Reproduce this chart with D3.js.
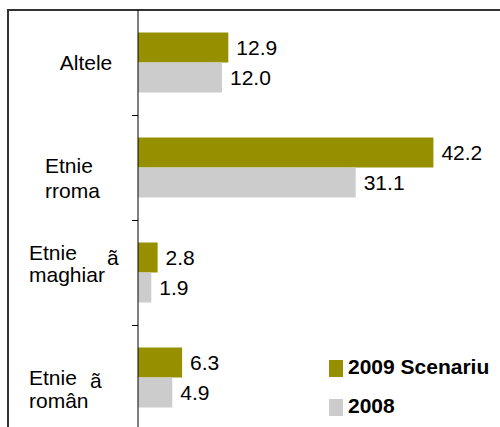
<!DOCTYPE html>
<html>
<head>
<meta charset="utf-8">
<script src="https://d3js.org/d3.v7.min.js"></script>
<style>
  body { margin: 0; background: #fff; }
  svg { display: block; font-family: "Liberation Sans", Arial, sans-serif; }
</style>
</head>
<body>
<div id="chart"></div>
<script>
// data
var categories = ["Altele", "Etnie rroma", "Etnie maghiarã", "Etnie românã"];
var seriesNames = ["2009 Scenariu", "2008"];
var values2009 = [12.9, 42.2, 2.8, 6.3];
var values2008 = [12.0, 31.1, 1.9, 4.9];
var seriesColors = ["#969000", "#cccccc"];

// label lines as they appear in the picture (main lines + detached "ã")
var labelLines = [["Altele"], ["Etnie", "rroma"], ["Etnie", "maghiar"], ["Etnie", "român"]];
var labelSuffix = [null, null, "ã", "ã"];

var W = 500, H = 427;
var fs = 21;
var svg = d3.select("#chart").append("svg")
  .attr("width", W)
  .attr("height", H);

// scales
var x = d3.scaleLinear().domain([0, 50]).range([138, 488]);
var y = d3.scaleBand().domain(categories).range([10, 430]);
var inner = d3.scaleBand().domain(seriesNames).range([0, 60]);

//outer frame
svg.append("line")
  .attr("x1", 7).attr("x2", W).attr("y1", 10).attr("y2", 10)
  .attr("stroke", "#333").attr("stroke-width", 2);
svg.append("line")
  .attr("x1", 8).attr("x2", 8).attr("y1", 9).attr("y2", H)
  .attr("stroke", "#333").attr("stroke-width", 2);

// bars
var series = [values2009, values2008];
series.forEach(function(vals, si) {
  var g = svg.append("g");
  g.selectAll("rect")
    .data(vals)
    .enter()
    .append("rect")
    .attr("x", x(0))
    .attr("y", function(d, i) { return y(categories[i]) + (y.bandwidth() - 60) / 2 + inner(seriesNames[si]); })
    .attr("width", function(d) { return x(d) - x(0); })
    .attr("height", inner.bandwidth())
    .attr("fill", seriesColors[si]);

  g.selectAll("text")
    .data(vals)
    .enter()
    .append("text")
    .attr("x", function(d) { return x(d) + 8; })
    .attr("y", function(d, i) { return y(categories[i]) + (y.bandwidth() - 60) / 2 + inner(seriesNames[si]) + inner.bandwidth() / 2 + 7.5; })
    .attr("font-size", fs)
    .attr("fill", "#000")
    .text(function(d) { return d.toFixed(1); });
});

// y axis
var axisG = svg.append("g")
  .attr("transform", "translate(" + x(0) + ",0)");
axisG.append("line")
  .attr("x1", 0).attr("x2", 0).attr("y1", 10).attr("y2", H)
  .attr("stroke", "#000");
axisG.selectAll(".tick")
  .data(categories.slice(1))
  .enter()
  .append("line")
  .attr("x1", -6).attr("x2", 0)
  .attr("y1", function(d) { return Math.round(y(d)) + 0.5; })
  .attr("y2", function(d) { return Math.round(y(d)) + 0.5; })
  .attr("stroke", "#000");

// category labels (the wrapped text sits a little differently in each band)
var labelX = [86, 45, 29, 29];
var labelDy = [7.5, 5.5, -12.5, 7.5];
var lineGap = [0, 25, 22, 23];
var suffixX = [0, 0, 107, 90];
var suffixDy = [0, 0, -7.5, 10.5];
categories.forEach(function(c, i) {
  var lines = labelLines[i];
  var mid = y(c) + y.bandwidth() / 2;
  var lg = svg.append("g");
  lines.forEach(function(t, li) {
    lg.append("text")
      .attr("x", labelX[i])
      .attr("y", mid + labelDy[i] + li * lineGap[i])
      .attr("text-anchor", lines.length == 1 ? "middle" : "start")
      .attr("font-size", fs)
      .text(t);
  });
  if (labelSuffix[i]) {
    lg.append("text")
      .attr("x", suffixX[i])
      .attr("y", mid + suffixDy[i])
      .attr("font-size", fs)
      .text(labelSuffix[i]);
  }
});

// legend
var legend = svg.append("g").attr("transform", "translate(329,360)");
seriesNames.forEach(function(s, i) {
  legend.append("rect")
    .attr("x", 0).attr("y", i * 39)
    .attr("width", 14).attr("height", 17)
    .attr("fill", seriesColors[i]);
  legend.append("text")
    .attr("x", 19).attr("y", i * 39 + 14)
    .attr("font-size", fs)
    .attr("font-weight", "bold")
    .text(s);
});
</script>
</body>
</html>
